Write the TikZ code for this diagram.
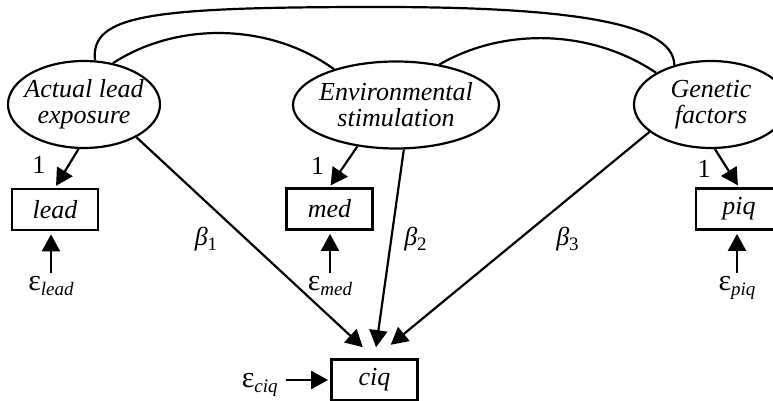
\documentclass[tikz,border=0pt]{standalone}
\usepackage{fontspec}
\setmainfont{Liberation Serif}
\usetikzlibrary{arrows.meta,positioning,shapes.geometric}
\newcommand{\lsub}[1]{\raisebox{-2.5pt}{\fontsize{9.5}{10}\selectfont #1}}
\newcommand{\eps}{{\upshape\fontsize{15}{15}\selectfont ε}}

\begin{document}
\begin{tikzpicture}[x=0.5pt,y=0.5pt, every node/.style={font=\fontsize{13}{13}\selectfont\itshape,align=center}, latent/.style={draw,ellipse,line width=1.1pt,inner xsep=-4pt,inner ysep=0pt,minimum height=43.5pt}, obs/.style={draw,line width=1.4pt,minimum width=43pt,minimum height=20.5pt,inner sep=0pt}, err/.style={inner xsep=4pt,inner ysep=1.5pt}, arr/.style={-{Triangle[length=8.5pt,width=9pt]},line width=1.1pt}, cov/.style={line width=1.1pt}]
\useasboundingbox (0,0) rectangle (773,401);
\clip (0,0) rectangle (773,401);
\node[latent,minimum width=76pt] (lat) at (84,296.5) {Actual lead\\exposure};
\node[latent,minimum width=103pt] (env) at (396,296) {Environmental\\stimulation};
\node[latent,minimum width=77pt] (gen) at (711,296.5) {Genetic\\factors};
\node[obs] (lead) at (55,191.5) {lead};
\node[obs] (med) at (329.5,192) {med};
\node[obs] (piq) at (739,192) {piq};
\node[obs] (ciq) at (374.5,21) {ciq};
\node[err,anchor=base] (elead) at (51,110) {\eps\lsub{lead}};
\node[err,anchor=base] (emed) at (330,110) {\eps\lsub{med}};
\node[err,anchor=base] (epiq) at (737,110) {\eps\lsub{piq}};
\node[err,anchor=base east] (eciq) at (286,13) {\eps\lsub{ciq}};
\node[font=\fontsize{13}{13}\selectfont] (one1) at (39,236) {1};
\node[font=\fontsize{13}{13}\selectfont] (one2) at (317.5,235.5) {1};
\node[font=\fontsize{13}{13}\selectfont] (one3) at (704,232.5) {1};
\node (b1) at (206,162) {β\lsub{\upshape 1}};
\node (b2) at (415.5,162) {β\lsub{\upshape 2}};
\node (b3) at (567.5,162) {β\lsub{\upshape 3}};
% loadings and paths
\draw[arr,shorten >=1pt] (lat.-97) -- (lead.north);
\draw[arr,shorten >=1pt] (env.-133) -- (med.north);
\draw[arr,shorten >=1pt] (gen.-85) -- (piq.north);
\draw[arr,shorten >=8pt] (lat.-32.5) -- (ciq.north);
\draw[arr,shorten >=5.5pt] (env.-80) -- (ciq.north);
\draw[arr,shorten >=10.5pt] (gen.-156) -- (ciq.north);
% errors
\draw[arr,shorten >=1.5pt] (elead.north) -- (elead.north |- lead.south);
\draw[arr,shorten >=1.5pt] (emed.north) -- (emed.north |- med.south);
\draw[arr,shorten >=1.5pt] (epiq.north) -- (epiq.north |- piq.south);
\draw[arr,shorten >=1pt] (eciq.east |- ciq) -- (ciq.west);
% covariances
\coordinate (apex) at (380,394);
\draw[cov] (lat.55) to[out=33,in=144,looseness=.9] (env.150);
\draw[cov] (env.43) to[out=30,in=146,looseness=.9] (gen.150);
\draw[cov] (lat.76) to[out=96,in=180,out distance=23pt,in distance=115pt] (apex) to[out=0,in=90,out distance=90pt,in distance=22pt] (gen.133);
\end{tikzpicture}
\end{document}
